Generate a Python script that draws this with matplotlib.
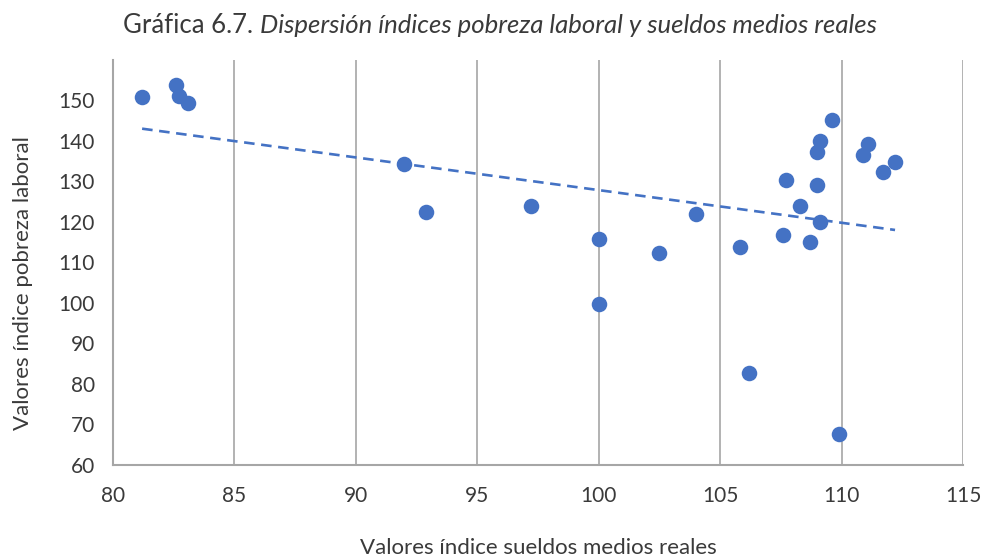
import matplotlib
matplotlib.use("Agg")
import matplotlib.pyplot as plt
import numpy as np

# sueldos medios reales (x) vs pobreza laboral (y)
sueldos = [81.2, 82.6, 82.7, 83.1, 92.0, 92.9, 97.2, 100.0, 100.0, 102.5,
           104.0, 105.8, 106.2, 107.6, 107.7, 108.3, 108.7, 109.0, 109.1,
           109.0, 109.1, 109.6, 109.9, 110.9, 111.1, 111.7, 112.2]
pobreza = [150.8, 153.8, 151.1, 149.4, 134.2, 122.4, 124.0, 115.8, 99.7, 112.4,
           121.8, 113.8, 82.6, 116.8, 130.2, 124.0, 114.9, 129.0, 120.0,
           137.2, 139.8, 145.0, 67.6, 136.4, 139.1, 132.3, 134.8]

xticks = [80, 85, 90, 95, 100, 105, 110, 115]
yticks = [60, 70, 80, 90, 100, 110, 120, 130, 140, 150]

blue = "#4472C4"
grey = "#a6a6a6"
txt = "#3a3a3a"
plt.rcParams['font.family'] = ['Lato', 'DejaVu Sans']

fig = plt.figure(figsize=(9.84, 5.6), dpi=100)
ax = fig.add_axes([0.1148, 0.1696, 0.8639, 0.7241])

ax.scatter(sueldos, pobreza, s=125, color=blue, zorder=3, linewidths=0)

# linear trend line like excel
m, b = np.polyfit(sueldos, pobreza, 1)
xs = np.array([min(sueldos), max(sueldos)])
ax.plot(xs, m * xs + b, color=blue, lw=1.9, ls=(0, (4, 2.5)), zorder=2)

ax.set_xlim(80, 115)
ax.set_ylim(60, 160)
ax.set_xticks(xticks)
ax.set_yticks(yticks)
ax.grid(axis='x', color=grey, lw=1.2)
ax.set_axisbelow(True)
ax.tick_params(length=0, labelsize=15, colors=txt)
ax.tick_params(axis='x', pad=15)
ax.tick_params(axis='y', pad=13)
for s in ['top', 'right']:
    ax.spines[s].set_visible(False)
for s in ['left', 'bottom']:
    ax.spines[s].set_color(grey)
    ax.spines[s].set_linewidth(1.5)

fig.text(0.547, 0.022, "Valores índice sueldos medios reales", ha='center',
         va='center', fontsize=16, color=txt)
fig.text(0.023, 0.495, "Valores índice pobreza laboral", ha='center',
         va='center', rotation=90, fontsize=16, color=txt)

# title: regular part + italic part, centred together
r = fig.canvas.get_renderer()
t1 = fig.text(0, 0.955, "Gráfica 6.7. ", ha='left', va='center',
              fontsize=18.5, color=txt)
t2 = fig.text(0, 0.955, "Dispersión índices pobreza laboral y sueldos medios reales",
              ha='left', va='center', fontsize=18.5, style='italic', color=txt)
w1 = t1.get_window_extent(r).width / fig.bbox.width
w2 = t2.get_window_extent(r).width / fig.bbox.width
x0 = 0.508 - (w1 + w2) / 2
t1.set_x(x0)
t2.set_x(x0 + w1)

fig.savefig("out.png", dpi=100)
